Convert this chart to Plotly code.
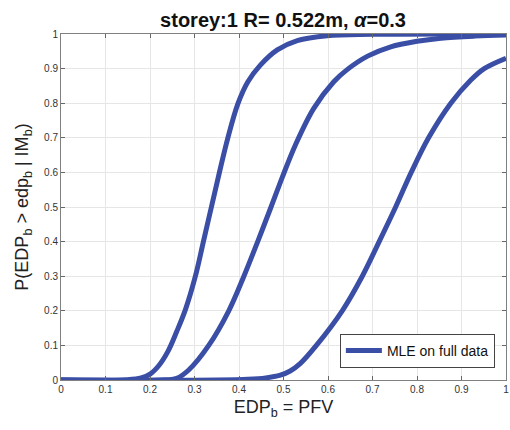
import plotly.graph_objects as go

# Fragility-style CDF curves
x_curve1 = [0, 0.15, 0.18, 0.2, 0.22, 0.24, 0.26, 0.28, 0.302, 0.32, 0.338, 0.356, 0.375, 0.398, 0.42, 0.448, 0.486, 0.531, 0.598, 0.7, 1.0]
y_curve1 = [0, 0.001, 0.006, 0.017, 0.042, 0.082, 0.14, 0.205, 0.3, 0.4, 0.5, 0.6, 0.7, 0.8, 0.862, 0.91, 0.954, 0.981, 0.995, 0.999, 1.0]

x_curve2 = [0, 0.22, 0.26, 0.287, 0.332, 0.377, 0.411, 0.442, 0.472, 0.497, 0.527, 0.568, 0.613, 0.643, 0.689, 0.741, 0.8, 0.854, 0.93, 1.0]
y_curve2 = [0, 0.0, 0.005, 0.029, 0.1, 0.2, 0.3, 0.4, 0.5, 0.585, 0.68, 0.785, 0.862, 0.897, 0.936, 0.963, 0.979, 0.988, 0.994, 0.997]

x_curve3 = [0, 0.35, 0.42, 0.46, 0.493, 0.515, 0.538, 0.572, 0.632, 0.677, 0.715, 0.752, 0.787, 0.826, 0.876, 0.921, 0.951, 1.0]
y_curve3 = [0, 0.0, 0.002, 0.006, 0.014, 0.026, 0.048, 0.097, 0.2, 0.3, 0.4, 0.5, 0.6, 0.7, 0.8, 0.867, 0.9, 0.93]

tick_vals = [0, 0.1, 0.2, 0.3, 0.4, 0.5, 0.6, 0.7, 0.8, 0.9, 1]
tick_text = ["0", "0.1", "0.2", "0.3", "0.4", "0.5", "0.6", "0.7", "0.8", "0.9", "1"]

line_color = "#3a4ea6"

fig = go.Figure()

curves = [(x_curve1, y_curve1), (x_curve2, y_curve2), (x_curve3, y_curve3)]
for i, (xs, ys) in enumerate(curves):
    fig.add_trace(go.Scatter(
        x=xs, y=ys, mode="lines",
        line=dict(color=line_color, width=5, shape="spline", smoothing=1.0),
        name="MLE on full data",
        legendgroup="mle",
        showlegend=(i == 0),
    ))

axis_style = dict(
    range=[0, 1],
    tickvals=tick_vals,
    ticktext=tick_text,
    ticks="inside",
    ticklen=4,
    tickcolor="#666666",
    showline=True,
    linecolor="#808080",
    linewidth=1,
    mirror="ticks",
    showgrid=True,
    gridcolor="#e6e6e6",
    gridwidth=1,
    zeroline=False,
    automargin=False,
    ticklabeloverflow="allow",
    tickfont=dict(size=10, color="#333333"),
)

fig.update_xaxes(
    **axis_style,
    title=dict(text="EDP<sub>b</sub> = PFV", font=dict(size=18, color="#222222"), standoff=6),
)
fig.update_yaxes(
    **axis_style,
    title=dict(text="P(EDP<sub>b</sub> > edp<sub>b</sub> | IM<sub>b</sub>)", font=dict(size=18, color="#222222"), standoff=10),
)

fig.update_layout(
    width=510,
    height=430,
    margin=dict(l=61, r=4, t=34, b=50),
    font=dict(family="Liberation Sans, Arial, sans-serif"),
    title=dict(
        text="<b>storey:1 R= 0.522m, <i>α</i>=0.3</b>",
        x=0.555, xanchor="center", y=1 - 20 / 430, yanchor="middle",
        font=dict(size=20, color="#111111"),
    ),
    plot_bgcolor="white",
    paper_bgcolor="white",
    showlegend=True,
    legend=dict(
        x=0.975, y=0.035, xanchor="right", yanchor="bottom",
        bgcolor="white", bordercolor="#444444", borderwidth=1,
        font=dict(size=14, color="#111111"),
        itemwidth=36,
        tracegroupgap=0,
    ),
)

# drop the default page margin so the figure fills the 510x430 window
fig.write_html(
    "out.html",
    config={"displayModeBar": False},
    post_script="document.body.style.margin='0';document.body.style.overflow='hidden';",
)
